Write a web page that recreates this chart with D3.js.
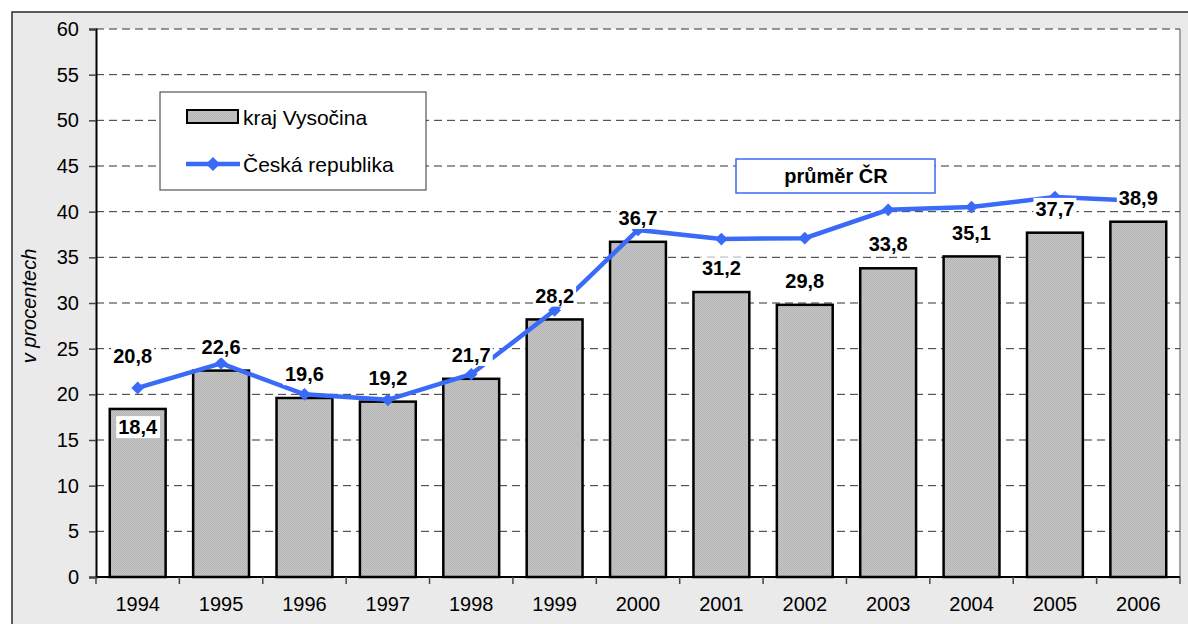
<!DOCTYPE html>
<html>
<head>
<meta charset="utf-8">
<script src="https://cdn.jsdelivr.net/npm/d3@7"></script>
<style>
  body { margin: 0; background: #fff; }
  text { font-family: "Liberation Sans", Arial, sans-serif; }
</style>
</head>
<body>
<svg width="1188" height="624"></svg>
<script>
// Data
var years = ['1994', '1995', '1996', '1997', '1998', '1999', '2000', '2001', '2002', '2003', '2004', '2005', '2006'];
var vysocina = [18.4, 22.6, 19.6, 19.2, 21.7, 28.2, 36.7, 31.2, 29.8, 33.8, 35.1, 37.7, 38.9];
var cr = [20.7, 23.4, 20.0, 19.4, 22.2, 29.2, 38.0, 37.0, 37.1, 40.2, 40.5, 41.6, 41.2];
var yTicks = [0, 5, 10, 15, 20, 25, 30, 35, 40, 45, 50, 55, 60];

var blue = '#3a6af8';
var margin = {top: 29, right: 8, bottom: 47, left: 96};
var width = 1188 - margin.left - margin.right;
var height = 624 - margin.top - margin.bottom;

var svg = d3.select('svg');

// fine hatch pattern for the bars
var pat = svg.append('defs').append('pattern')
  .attr('id', 'hatch')
  .attr('patternUnits', 'userSpaceOnUse')
  .attr('width', 2).attr('height', 2);
pat.append('rect').attr('width', 2).attr('height', 2).attr('fill', '#c4c4c4');
pat.append('path').attr('d', 'M0,2 L2,0').attr('stroke', '#b2b2b2').attr('stroke-width', 0.8);

// outer frame
svg.append('rect')
  .attr('x', 12).attr('y', 12)
  .attr('width', 1190).attr('height', 630)
  .attr('fill', '#eaeaea')
  .attr('stroke', '#2a2a2a').attr('stroke-width', 1.5);

var chart = svg.append('g')
  .attr('transform', 'translate(' + margin.left + ',' + margin.top + ')');

var x = d3.scaleBand().domain(years).range([0, width]).paddingInner(0.33).paddingOuter(0.165);
var xi = d3.scaleLinear().domain([0, years.length]).range([0, width]);
var y = d3.scaleLinear().domain([0, 60]).range([height, 0]);
var bw = x.bandwidth();
var fmt = v => d3.format('.1f')(v).replace('.', ',');

// plot area
chart.append('rect').attr('width', width).attr('height', height).attr('fill', '#fff');
chart.append('line')
  .attr('x1', width).attr('x2', width).attr('y1', 0).attr('y2', height)
  .attr('stroke', '#8a8a8a').attr('stroke-width', 1.5);

// gridlines
chart.selectAll('.grid')
  .data(yTicks.filter(d => d > 0)).enter()
  .append('line')
  .attr('x1', 0).attr('x2', width)
  .attr('y1', d => y(d)).attr('y2', d => y(d))
  .attr('stroke', '#333').attr('stroke-width', 1)
  .attr('stroke-dasharray', '8,5');

// bars
chart.selectAll('.bar')
  .data(vysocina).enter()
  .append('rect')
  .attr('x', (d, i) => x(years[i]))
  .attr('y', d => y(d))
  .attr('width', bw)
  .attr('height', d => height - y(d))
  .attr('fill', 'url(#hatch)')
  .attr('stroke', '#000').attr('stroke-width', 2.5);

// axes
var yAxis = d3.axisLeft(y).tickValues(yTicks).tickSize(7).tickPadding(10);
var gy = chart.append('g').call(yAxis);
gy.select('.domain').attr('stroke', '#000').attr('stroke-width', 2);
gy.selectAll('.tick line').attr('stroke', '#444').attr('stroke-width', 1.5);
gy.selectAll('text').attr('font-size', 20).attr('fill', '#000');

var xAxis = d3.axisBottom(x).tickSize(0).tickPadding(20);
var gx = chart.append('g').attr('transform', 'translate(0,' + height + ')').call(xAxis);
gx.select('.domain').remove();
gx.selectAll('text').attr('font-size', 20).attr('fill', '#000');
chart.append('line')
  .attr('x1', 0).attr('x2', width).attr('y1', height).attr('y2', height)
  .attr('stroke', '#000').attr('stroke-width', 2);
chart.selectAll('.xtick')
  .data(d3.range(years.length + 1)).enter()
  .append('line')
  .attr('x1', d => xi(d)).attr('x2', d => xi(d))
  .attr('y1', height).attr('y2', height + 7)
  .attr('stroke', '#444').attr('stroke-width', 1.5);

// Czech Republic line
var line = d3.line().x((d, i) => x(years[i]) + bw / 2).y(d => y(d));
chart.append('path')
  .datum(cr)
  .attr('fill', 'none')
  .attr('stroke', blue)
  .attr('stroke-width', 4.5)
  .attr('d', line);
chart.selectAll('.pt')
  .data(cr).enter()
  .append('rect')
  .attr('x', -4.5).attr('y', -4.5).attr('width', 9).attr('height', 9)
  .attr('fill', blue)
  .attr('transform', (d, i) => 'translate(' + (x(years[i]) + bw / 2) + ',' + y(d) + ') rotate(45)');

// data labels with white boxes
function label(txt, cx, cy) {
  var g = chart.append('g');
  var t = g.append('text')
    .attr('x', cx).attr('y', cy).attr('dy', '0.36em')
    .attr('text-anchor', 'middle')
    .attr('font-size', 20).attr('font-weight', 'bold')
    .text(txt);
  var b = t.node().getBBox();
  g.insert('rect', 'text')
    .attr('x', b.x - 2).attr('y', b.y)
    .attr('width', b.width + 4).attr('height', b.height)
    .attr('fill', '#fff');
}
vysocina.forEach((v, i) => {
  var cx = x(years[i]) + bw / 2;
  if (i === 0) label(fmt(v), cx, y(v) + 18);
  else label(fmt(v), cx, y(v) - 24);
});
label(fmt(20.8), x(years[0]) + bw / 2 - 5, y(cr[0]) - 32);

// legend
var lg = svg.append('g');
lg.append('rect').attr('x', 160).attr('y', 92).attr('width', 266).attr('height', 98)
  .attr('fill', '#fff').attr('stroke', '#333').attr('stroke-width', 1);
lg.append('rect').attr('x', 187).attr('y', 110).attr('width', 51).attr('height', 13)
  .attr('fill', 'url(#hatch)').attr('stroke', '#000').attr('stroke-width', 2);
lg.append('text').attr('x', 243).attr('y', 117).attr('dy', '0.36em')
  .attr('font-size', 21).text('kraj Vysočina');
lg.append('line').attr('x1', 186).attr('x2', 240).attr('y1', 164).attr('y2', 164)
  .attr('stroke', blue).attr('stroke-width', 4.5);
lg.append('rect').attr('x', -5).attr('y', -5).attr('width', 10).attr('height', 10)
  .attr('fill', blue).attr('transform', 'translate(213,164) rotate(45)');
lg.append('text').attr('x', 243).attr('y', 164).attr('dy', '0.36em')
  .attr('font-size', 21).text('Česká republika');

// annotation box
svg.append('rect').attr('x', 736).attr('y', 159).attr('width', 199).attr('height', 34)
  .attr('fill', '#fff').attr('stroke', blue).attr('stroke-width', 1.5);
svg.append('text').attr('x', 836).attr('y', 176).attr('dy', '0.36em')
  .attr('text-anchor', 'middle').attr('font-size', 20).attr('font-weight', 'bold')
  .text('průměr ČR');

// y title
svg.append('text')
  .attr('transform', 'translate(36,306) rotate(-90)')
  .attr('text-anchor', 'middle')
  .attr('font-size', 20).attr('font-style', 'italic')
  .text('v procentech');
</script>
</body>
</html>
